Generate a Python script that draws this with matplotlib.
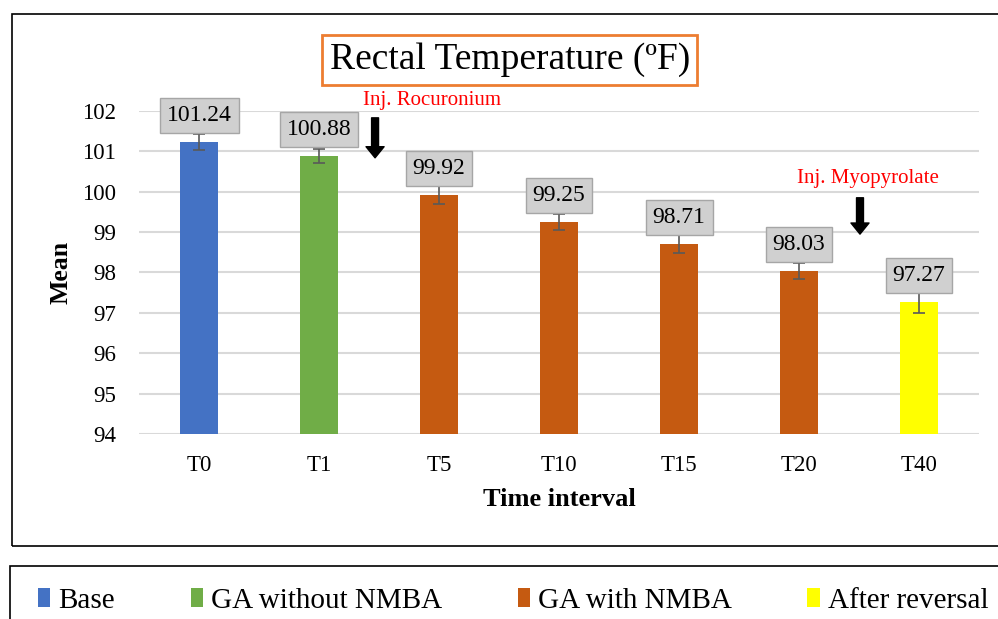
import matplotlib.pyplot as plt
from matplotlib.patches import Patch, Rectangle

plt.rcParams['font.family'] = ['Liberation Serif', 'DejaVu Serif']

# data
intervals = ['T0', 'T1', 'T5', 'T10', 'T15', 'T20', 'T40']
means = [101.24, 100.88, 99.92, 99.25, 98.71, 98.03, 97.27]
errors = [0.2, 0.17, 0.22, 0.2, 0.22, 0.2, 0.27]
groups = ['Base', 'GA without NMBA', 'GA with NMBA', 'GA with NMBA',
          'GA with NMBA', 'GA with NMBA', 'After reversal']
group_names = ['Base', 'GA without NMBA', 'GA with NMBA', 'After reversal']
group_colors = {'Base': '#4472C4', 'GA without NMBA': '#70AD47',
                'GA with NMBA': '#C55A11', 'After reversal': '#FFFF00'}

fig = plt.figure(figsize=(9.98, 6.19), dpi=100)
ax = fig.add_axes([0.1393, 0.2989, 0.8417, 0.5218])

x = range(len(intervals))
colors = [group_colors[g] for g in groups]
ax.bar(x, means, width=0.32, color=colors, zorder=2)
ax.errorbar(x, means, yerr=errors, fmt='none', ecolor='#595959',
            elinewidth=1.2, capsize=4.5, capthick=1.2, zorder=3)

for xi, m in zip(x, means):
    ax.annotate(f'{m:.2f}', (xi, m), xytext=(0, 19), textcoords='offset points',
                ha='center', va='center', fontsize=17, zorder=5,
                bbox=dict(boxstyle='square,pad=0.3', fc='#D0D0D0', ec='#A6A6A6', lw=1))

ax.set_xlim(-0.5, 6.5)
ax.set_ylim(94, 102)
ax.set_yticks(range(94, 103))
ax.set_xticks(list(x))
ax.set_xticklabels(intervals)
ax.tick_params(axis='both', length=0, labelsize=16.5)
ax.tick_params(axis='y', pad=16.5)
ax.tick_params(axis='x', pad=15)
ax.grid(axis='y', color='#D9D9D9', lw=1.5, zorder=0)
for s in ax.spines.values():
    s.set_visible(False)

ax.set_ylabel('Mean', fontsize=18.5, fontweight='bold', labelpad=7)
ax.set_xlabel('Time interval', fontsize=19, fontweight='bold', labelpad=9)

ax.text(2.59, 103.26, 'Rectal Temperature (ºF)', ha='center', va='center', fontsize=27,
        bbox=dict(boxstyle='square,pad=0.2', fc='white', ec='#ED7D31', lw=2))

# injection annotations
ax.text(1.94, 102.27, 'Inj. Rocuronium', color='red', fontsize=15,
        ha='center', va='center', clip_on=False)
ax.annotate('', xy=(1.467, 100.84), xytext=(1.467, 101.83),
            arrowprops=dict(facecolor='black', edgecolor='black', width=5,
                            headwidth=13, headlength=8, shrink=0))
ax.text(5.575, 100.34, 'Inj. Myopyrolate', color='red', fontsize=15,
        ha='center', va='center')
ax.annotate('', xy=(5.508, 98.95), xytext=(5.508, 99.85),
            arrowprops=dict(facecolor='black', edgecolor='black', width=5,
                            headwidth=13, headlength=8, shrink=0))

# chart and legend frames
fig.patches.append(Rectangle((12 / 998, 1 - 546 / 619), 1.0, (546 - 14) / 619,
                             transform=fig.transFigure, fill=False, ec='black', lw=1.2))
fig.patches.append(Rectangle((10 / 998, -0.1), 1.0, 0.1 + (619 - 566) / 619,
                             transform=fig.transFigure, fill=False, ec='black', lw=1.2))

handles = [Patch(facecolor=group_colors[g], label=g) for g in group_names]
fig.legend(handles=handles, loc='center left', bbox_to_anchor=(0.038, 1 - 601 / 619),
           ncol=4, frameon=False, fontsize=21, handlelength=0.42, handleheight=0.65,
           handletextpad=0.27, columnspacing=2.6, borderpad=0, borderaxespad=0)

fig.savefig('out.png', dpi=100)
